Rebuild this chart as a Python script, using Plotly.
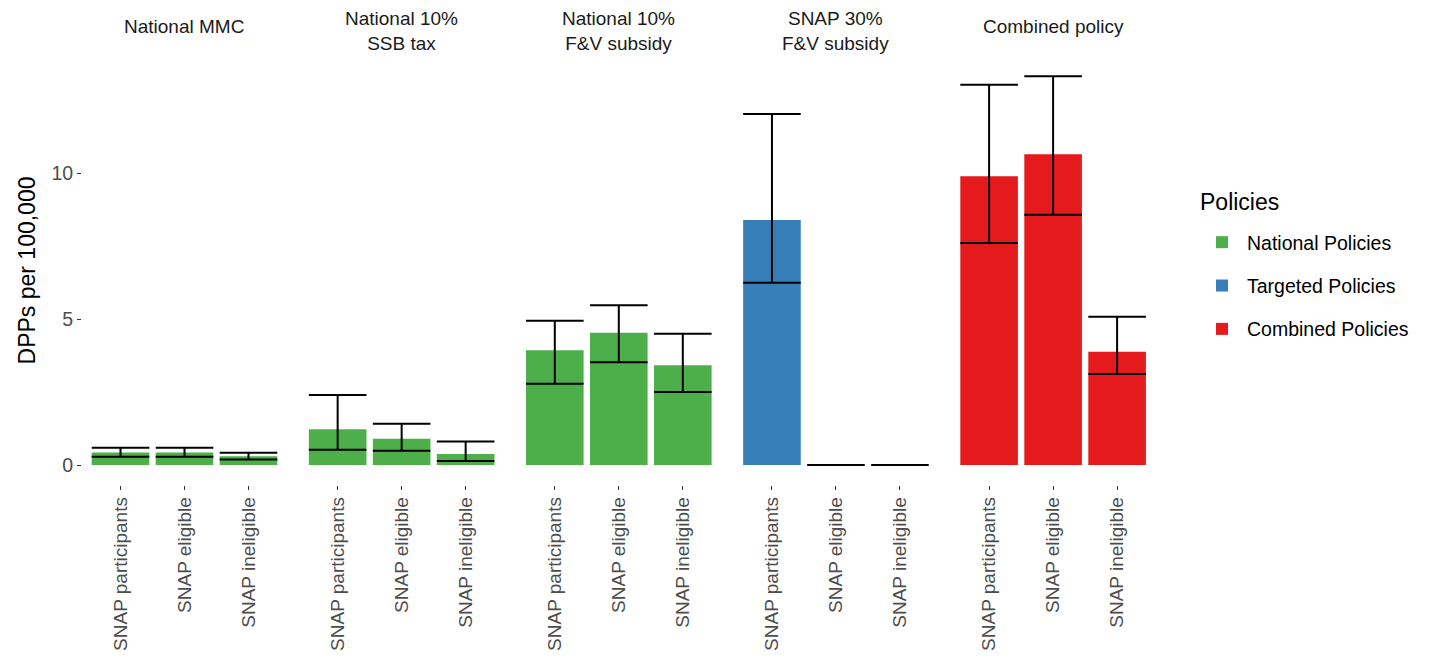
import plotly.graph_objects as go

# ---- data ----
facets = ["National MMC", "National 10%<br>SSB tax", "National 10%<br>F&V subsidy",
          "SNAP 30%<br>F&V subsidy", "Combined policy"]
facet_group = ["National Policies", "National Policies", "National Policies",
               "Targeted Policies", "Combined Policies"]
groups = ["SNAP participants", "SNAP eligible", "SNAP ineligible"]

mmc_val = [0.43, 0.43, 0.30]
mmc_lo = [0.28, 0.28, 0.19]
mmc_hi = [0.59, 0.59, 0.42]

ssb_val = [1.23, 0.90, 0.38]
ssb_lo = [0.52, 0.49, 0.14]
ssb_hi = [2.40, 1.41, 0.81]

fv_val = [3.93, 4.53, 3.42]
fv_lo = [2.78, 3.52, 2.50]
fv_hi = [4.94, 5.47, 4.50]

snap_val = [8.39, 0.0, 0.0]
snap_lo = [6.24, 0.0, 0.0]
snap_hi = [12.02, 0.0, 0.0]

comb_val = [9.89, 10.64, 3.88]
comb_lo = [7.60, 8.57, 3.12]
comb_hi = [13.02, 13.31, 5.08]

values = [mmc_val, ssb_val, fv_val, snap_val, comb_val]
lows = [mmc_lo, ssb_lo, fv_lo, snap_lo, comb_lo]
highs = [mmc_hi, ssb_hi, fv_hi, snap_hi, comb_hi]

colors = {"National Policies": "#4DAF4A", "Targeted Policies": "#377EB8",
          "Combined Policies": "#E41A1C"}
legend_order = ["National Policies", "Targeted Policies", "Combined Policies"]

# ---- layout geometry (page is offset by the 8px body margin) ----
OFF = 8
W, H = 1431 - 2 * OFF, 661 - 2 * OFF
FONT = "Liberation Sans, Arial, sans-serif"
panel_left0 = 82.1 - OFF
panel_step = 217.15
panel_w = 204.8
y_bottom_px, y_top_px = 484.5 - OFF, 56.5 - OFF

fig = go.Figure()
shown = set()
for i in range(5):
    xa = "x" if i == 0 else f"x{i+1}"
    ya = "y" if i == 0 else f"y{i+1}"
    g = facet_group[i]
    v = values[i]
    plus = [h - a for h, a in zip(highs[i], v)]
    minus = [a - l for a, l in zip(v, lows[i])]
    fig.add_trace(go.Bar(
        x=groups, y=v, width=0.9, xaxis=xa, yaxis=ya,
        name=g, legendgroup=g, showlegend=(g not in shown),
        legendrank=legend_order.index(g) + 1,
        marker=dict(color=colors[g], line=dict(width=0)),
        error_y=dict(type="data", symmetric=False, array=plus, arrayminus=minus,
                     color="black", thickness=2, width=28.8),
    ))
    shown.add(g)

ydom = [(H - y_bottom_px) / H, (H - y_top_px) / H]
yrange = [-0.666, 13.99]
layout = dict(
    width=W, height=H, paper_bgcolor="white", plot_bgcolor="white",
    margin=dict(l=0, r=0, t=0, b=0, autoexpand=False),
    font=dict(family=FONT, color="#1A1A1A"),
    bargap=0.1,
    showlegend=True,
    legend=dict(
        x=(1197 - OFF) / W, y=(H - (223 - OFF)) / H, xanchor="left", yanchor="top",
        font=dict(size=19.5, color="black"),
        tracegroupgap=15, traceorder="grouped",
        itemwidth=40,
    ),
    annotations=[dict(
        text="Policies", xref="paper", yref="paper",
        x=(1198 - OFF) / W, y=(H - (202 - OFF)) / H, xanchor="left", yanchor="middle",
        showarrow=False, font=dict(size=23, color="black", family=FONT),
    )],
)
for i in range(5):
    xk = "xaxis" if i == 0 else f"xaxis{i+1}"
    yk = "yaxis" if i == 0 else f"yaxis{i+1}"
    x0 = (panel_left0 + panel_step * i) / W
    x1 = (panel_left0 + panel_step * i + panel_w) / W
    layout[xk] = dict(
        domain=[x0, x1], anchor="y" if i == 0 else f"y{i+1}",
        type="category", range=[-0.6, 2.6], categoryorder="array", categoryarray=groups,
        showgrid=False, zeroline=False, showline=False,
        ticks="outside", ticklen=4, tickcolor="#333333", tickwidth=1,
        tickangle=-90, tickfont=dict(size=19, color="#4D4D4D", family=FONT),
        automargin=False, fixedrange=True,
    )
    layout[yk] = dict(
        domain=ydom, anchor="x" if i == 0 else f"x{i+1}",
        range=yrange, showgrid=False, zeroline=False, showline=False,
        tickvals=[0, 5, 10], ticktext=["0", "5", "10"],
        ticks="outside" if i == 0 else "", ticklen=4, tickcolor="#333333", tickwidth=1,
        showticklabels=(i == 0),
        tickfont=dict(size=19.5, color="#4D4D4D", family=FONT),
        automargin=False, fixedrange=True,
    )
    if i == 0:
        layout[yk]["title"] = dict(text="DPPs per 100,000",
                                   font=dict(size=23, color="black", family=FONT),
                                   standoff=9)
    two_line = "<br>" in facets[i]
    strip_y = 31 if two_line else 27
    layout["annotations"].append(dict(
        text=facets[i], xref="paper", yref="paper",
        x=(x0 + x1) / 2, y=(H - (strip_y - OFF)) / H, xanchor="center", yanchor="middle",
        showarrow=False, font=dict(size=19, color="#1A1A1A", family=FONT),
    ))

fig.update_layout(**layout)
fig.write_html("out.html")
